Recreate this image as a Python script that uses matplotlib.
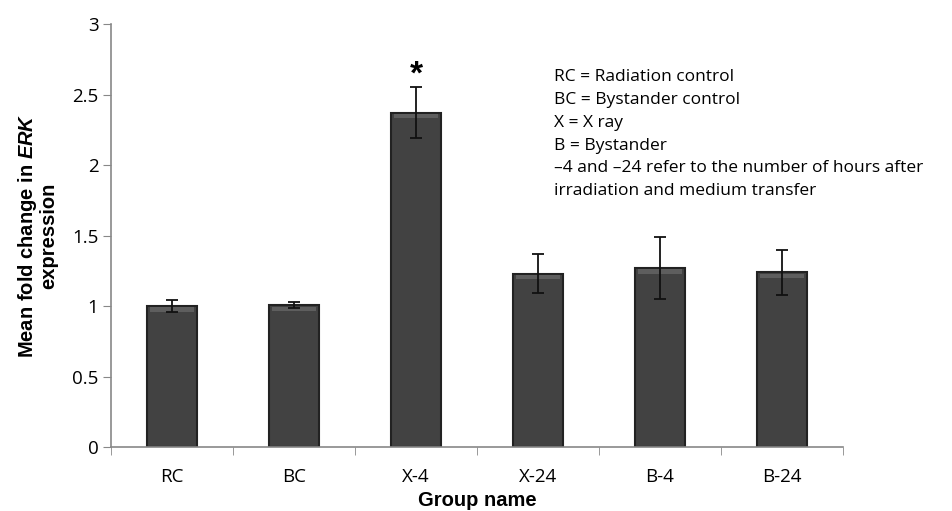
import matplotlib
matplotlib.use("Agg")
import matplotlib.pyplot as plt
import numpy as np

groups = ["RC", "BC", "X-4", "X-24", "B-4", "B-24"]
mean_fold = [1.00, 1.005, 2.37, 1.23, 1.27, 1.24]
err = [0.04, 0.02, 0.18, 0.14, 0.22, 0.16]
notes = ["RC = Radiation control",
         "BC = Bystander control",
         "X = X ray",
         "B = Bystander",
         "\u20134 and \u201324 refer to the number of hours after",
         "irradiation and medium transfer"]

plt.rcParams['font.family'] = ['Open Sans', 'DejaVu Sans']
plt.rcParams['mathtext.fontset'] = 'custom'
plt.rcParams['mathtext.it'] = 'Liberation Sans:italic:bold'
plt.rcParams['mathtext.rm'] = 'Liberation Sans:bold'

fig = plt.figure(figsize=(9.53, 5.11), dpi=100)
ax = fig.add_axes([0.1165, 0.1252, 0.768, 0.8278])

x = np.arange(len(groups))
ax.bar(x, mean_fold, width=0.41, color='#424242', edgecolor='#222222', linewidth=1.5)
# light bevel along the top of each bar
ax.bar(x, [0.03] * len(groups), bottom=np.array(mean_fold) - 0.04, width=0.36,
       color='#5e5e5e', linewidth=0)
ax.errorbar(x, mean_fold, yerr=err, fmt='none', ecolor='#111111',
            elinewidth=1.3, capsize=4, capthick=1.3)

ax.text(2, 2.64, "*", ha='center', va='center', fontsize=24, fontweight='bold',
        family='Liberation Sans')

ax.set_xlim(-0.5, len(groups) - 0.5)
ax.set_ylim(0, 3)
ax.set_yticks([0, 0.5, 1, 1.5, 2, 2.5, 3])
ax.set_yticklabels(["0", "0.5", "1", "1.5", "2", "2.5", "3"])
ax.set_xticks(x)
ax.set_xticklabels(groups)
ax.set_xticks(np.arange(-0.5, len(groups), 1), minor=True)
ax.tick_params(axis='x', which='major', length=0, pad=15, labelsize=13.5)
ax.tick_params(axis='x', which='minor', length=6, color='#888888', direction='out')
ax.tick_params(axis='y', length=6, color='#888888', labelsize=13.5, pad=3)

for s in ['top', 'right']:
    ax.spines[s].set_visible(False)
for s in ['left', 'bottom']:
    ax.spines[s].set_color('#888888')
    ax.spines[s].set_linewidth(1.2)

ax.set_ylabel("Mean fold change in $ERK$\nexpression", fontsize=14.5,
              fontweight='bold', family='Liberation Sans', labelpad=10,
              linespacing=1.0)
ax.set_xlabel("Group name", fontsize=14.5, fontweight='bold',
              family='Liberation Sans', labelpad=4)

fig.text(0.581, 0.864, "\n".join(notes), ha='left', va='top', fontsize=12.5,
         linespacing=1.56)

fig.savefig("out.png", dpi=100)
